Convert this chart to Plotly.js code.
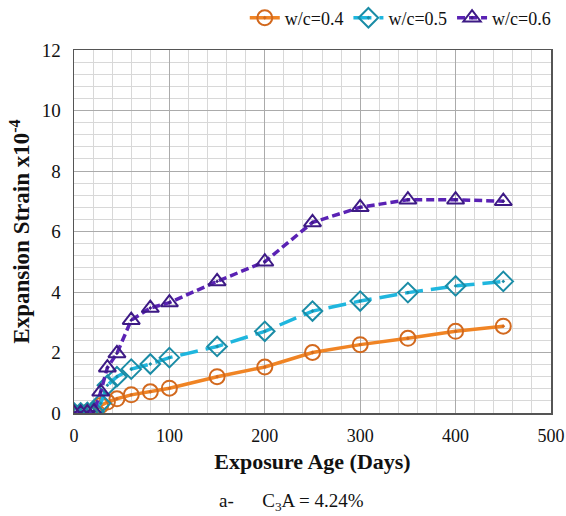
<!DOCTYPE html>
<html><head><meta charset="utf-8">
<script src="https://cdn.plot.ly/plotly-3.0.1.min.js"></script>
<style>html,body{margin:0;padding:0;background:#fff}#chart{width:566px;height:516px}</style>
</head><body><div id="chart"></div>
<script>
const days = [0, 7, 14, 21, 28, 35, 45, 60, 80, 100, 150, 200, 250, 300, 350, 400, 450];
const wc04 = [0, 0, 0.02, 0.05, 0.25, 0.36, 0.47, 0.6, 0.7, 0.82, 1.2, 1.52, 2.0, 2.26, 2.47, 2.7, 2.87];
const wc05 = [0, 0, 0.02, 0.05, 0.32, 0.92, 1.2, 1.45, 1.62, 1.83, 2.2, 2.7, 3.37, 3.7, 3.98, 4.2, 4.35];
const wc06 = [0, 0, 0.02, 0.05, 0.7, 1.5, 1.97, 3.07, 3.47, 3.65, 4.35, 5.0, 6.3, 6.8, 7.05, 7.05, 7.0];
const names = ["w/c=0.4", "w/c=0.5", "w/c=0.6"];
const xTicks = [0, 100, 200, 300, 400, 500];
const yTicks = [0, 2, 4, 6, 8, 10, 12];

const font = "'Liberation Serif', 'Times New Roman', serif";
const traces = [
  {x: days, y: wc04, name: names[0], mode: "lines+markers",
   line: {color: "#F08424", width: 3.5, dash: "solid"},
   marker: {symbol: "circle-open-dot", size: 15, color: "#D2691E", line: {width: 2, color: "#D2691E"}}},
  {x: days, y: wc05, name: names[1], mode: "lines+markers",
   line: {color: "#1FB6DE", width: 3.5, dash: "18px,8px"},
   marker: {symbol: "diamond-open-dot", size: 15, color: "#1A8CA6", line: {width: 2, color: "#1A8CA6"}}},
  {x: days, y: wc06, name: names[2], mode: "lines+markers",
   line: {color: "#5A22B4", width: 3.5, dash: "8px,4px"},
   marker: {symbol: "triangle-up-open-dot", size: 15, color: "#3D1A85", line: {width: 2, color: "#3D1A85"}}}
];
const layout = {
  width: 566, height: 516,
  margin: {l: 74, r: 15, t: 50, b: 103, autoexpand: false},
  paper_bgcolor: "#fff", plot_bgcolor: "#fff",
  font: {family: font, size: 16, color: "#111"},
  showlegend: true,
  legend: {orientation: "h", x: 1.01, xanchor: "right", y: 1.088, yanchor: "middle",
           font: {family: font, size: 18, color: "#111"}, itemwidth: 30, tracegroupgap: 0},
  xaxis: {range: [0, 500], tickvals: xTicks, ticktext: xTicks.map(String),
          showgrid: true, gridcolor: "#ababab", gridwidth: 1,
          minor: {dtick: 20, showgrid: true, gridcolor: "#d8d8d8", gridwidth: 1},
          showline: true, linecolor: "#555", linewidth: 1.5, mirror: true,
          zeroline: false, ticks: "", tickfont: {family: font, size: 18},
          ticklabeloverflow: "allow", ticklabelstandoff: 6,
          title: {text: "<b>Exposure Age (Days)</b>", font: {family: font, size: 22}, standoff: 8}},
  yaxis: {range: [0, 12], tickvals: yTicks, ticktext: yTicks.map(String),
          showgrid: true, gridcolor: "#ababab", gridwidth: 1,
          minor: {dtick: 0.4, showgrid: true, gridcolor: "#d8d8d8", gridwidth: 1},
          showline: true, linecolor: "#555", linewidth: 1.5, mirror: true,
          zeroline: false, ticks: "", tickfont: {family: font, size: 19}, ticklabelstandoff: 8,
          title: {text: "<b>Expansion Strain x10<sup>-4</sup></b>", font: {family: font, size: 23}, standoff: 5}},
  annotations: [
    {xref: "paper", yref: "paper", x: 0.30, y: -0.245, xanchor: "left", yanchor: "middle",
     showarrow: false, text: "a-&nbsp;&nbsp;&nbsp;&nbsp;&nbsp;&nbsp;C<sub>3</sub>A = 4.24%",
     font: {family: font, size: 19, color: "#111"}}
  ]
};
Plotly.newPlot("chart", traces, layout, {displayModeBar: false, staticPlot: true});
</script></body></html>
